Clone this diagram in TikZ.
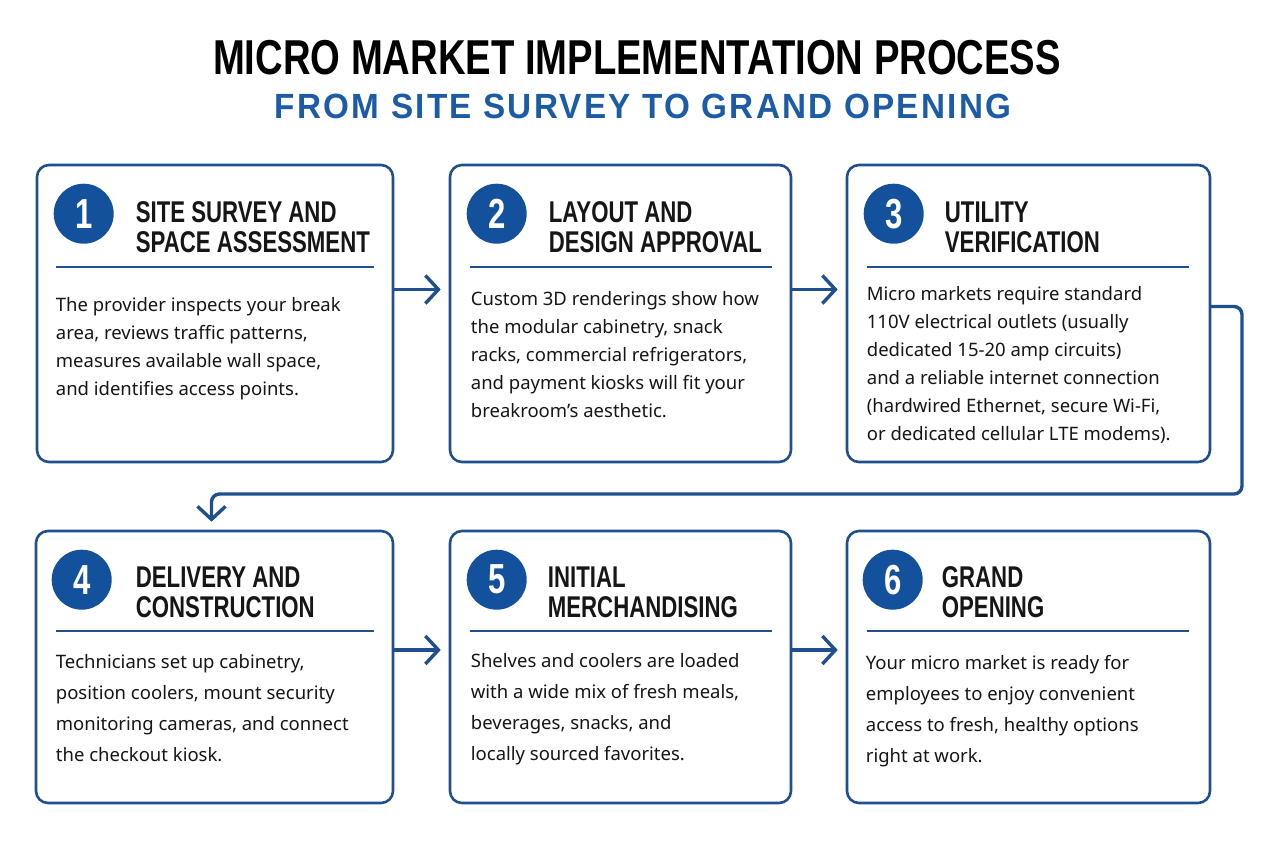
\documentclass[tikz,border=0pt]{standalone}
\usepackage{fontspec}
\setmainfont{Noto Sans}
\newfontfamily\headfont[FakeStretch=0.74]{Liberation Sans}
\newfontfamily\titlefont[FakeStretch=0.78]{Liberation Sans}
\newfontfamily\subfont[FakeStretch=0.95,LetterSpace=6.5]{Liberation Sans}
\usetikzlibrary{arrows.meta,positioning}
\definecolor{mmblue}{HTML}{1F4F8F}
\definecolor{badgeblue}{HTML}{14519C}
\definecolor{subblue}{HTML}{1C5CA6}
\definecolor{ink}{HTML}{161616}

\begin{document}
\begin{tikzpicture}[
    x=1pt,y=-1pt,
    card/.style={draw=mmblue, line width=2.6pt, rounded corners=12pt, fill=white,
      inner sep=0pt},
    toprow/.style={card, minimum height=297pt},
    lowrow/.style={card, minimum height=272pt},
    badge/.style={circle, fill=badgeblue, text=white, minimum size=60pt, inner sep=0pt,
      font=\headfont\bfseries\fontsize{42}{42}\selectfont},
    head/.style={anchor=north west, inner sep=0pt, align=left, text=ink,
      font=\headfont\bfseries\fontsize{30}{30}\selectfont},
    body/.style={anchor=north west, inner sep=0pt, align=left, text=ink,
      font=\fontsize{18.5}{28}\selectfont},
    lowbody/.style={body, font=\fontsize{18.5}{31}\selectfont},
    rule/.style={draw=mmblue, line width=1.8pt},
    link/.style={draw=mmblue, line width=3.4pt, line cap=round,
      -{Straight Barb[length=13pt,width=28pt,line width=3.4pt]}}
  ]
    \useasboundingbox (0,0) rectangle (1280,843);

    \node[font=\titlefont\bfseries\fontsize{49}{49}\selectfont, text=black] (title) at (637,58)
      {MICRO MARKET IMPLEMENTATION PROCESS};
    \node[font=\subfont\bfseries\fontsize{35}{35}\selectfont, text=subblue] (subtitle) at (643,106)
      {FROM SITE SURVEY TO GRAND OPENING};

    % step cards
    \node[toprow, minimum width=356pt] (s1) at (215,313.5) {};
    \node[toprow, minimum width=341pt] (s2) at (620.5,313.5) {};
    \node[toprow, minimum width=363pt] (s3) at (1028.5,313.5) {};
    \node[lowrow, minimum width=357pt] (s4) at (214.5,667) {};
    \node[lowrow, minimum width=341pt] (s5) at (620.5,667) {};
    \node[lowrow, minimum width=363pt] (s6) at (1028.5,667) {};

    \node[badge] (b1) at ([xshift=48pt,yshift=-50pt]s1.north west) {1};
    \node[badge] (b2) at ([xshift=48pt,yshift=-50pt]s2.north west) {2};
    \node[badge] (b3) at ([xshift=48pt,yshift=-50pt]s3.north west) {3};
    \node[badge] (b4) at ([xshift=47pt,yshift=-50pt]s4.north west) {4};
    \node[badge] (b5) at ([xshift=48pt,yshift=-50pt]s5.north west) {5};
    \node[badge] (b6) at ([xshift=47pt,yshift=-50pt]s6.north west) {6};

    \node[head] (h1) at ([xshift=100pt,yshift=-38pt]s1.north west) {SITE SURVEY AND\\SPACE ASSESSMENT};
    \node[head] (h2) at ([xshift=100pt,yshift=-38pt]s2.north west) {LAYOUT AND\\DESIGN APPROVAL};
    \node[head] (h3) at ([xshift=99pt,yshift=-38pt]s3.north west) {UTILITY\\VERIFICATION};
    \node[head] (h4) at ([xshift=101pt,yshift=-37pt]s4.north west) {DELIVERY AND\\CONSTRUCTION};
    \node[head] (h5) at ([xshift=99pt,yshift=-37pt]s5.north west) {INITIAL\\MERCHANDISING};
    \node[head] (h6) at ([xshift=96pt,yshift=-37pt]s6.north west) {GRAND\\OPENING};

    \draw[rule] ([xshift=20pt,yshift=-103pt]s1.north west) -- ([xshift=-20pt,yshift=-103pt]s1.north east);
    \draw[rule] ([xshift=21pt,yshift=-103pt]s2.north west) -- ([xshift=-20pt,yshift=-103pt]s2.north east);
    \draw[rule] ([xshift=21pt,yshift=-103pt]s3.north west) -- ([xshift=-22pt,yshift=-103pt]s3.north east);
    \draw[rule] ([xshift=21pt,yshift=-101pt]s4.north west) -- ([xshift=-20pt,yshift=-101pt]s4.north east);
    \draw[rule] ([xshift=21pt,yshift=-101pt]s5.north west) -- ([xshift=-20pt,yshift=-101pt]s5.north east);
    \draw[rule] ([xshift=21pt,yshift=-101pt]s6.north west) -- ([xshift=-22pt,yshift=-101pt]s6.north east);

    \node[body] (t1) at ([xshift=20pt,yshift=-134pt]s1.north west)
      {The provider inspects your break\\area, reviews traffic patterns,\\measures available wall space,\\and identifies access points.};
    \node[body] (t2) at ([xshift=22pt,yshift=-128pt]s2.north west)
      {Custom 3D renderings show how\\the modular cabinetry, snack\\racks, commercial refrigerators,\\and payment kiosks will fit your\\breakroom’s aesthetic.};
    \node[body] (t3) at ([xshift=21pt,yshift=-123pt]s3.north west)
      {Micro markets require standard\\110V electrical outlets (usually\\dedicated 15-20 amp circuits)\\and a reliable internet connection\\(hardwired Ethernet, secure Wi-Fi,\\or dedicated cellular LTE modems).};
    \node[lowbody] (t4) at ([xshift=21pt,yshift=-125pt]s4.north west)
      {Technicians set up cabinetry,\\position coolers, mount security\\monitoring cameras, and connect\\the checkout kiosk.};
    \node[lowbody] (t5) at ([xshift=22pt,yshift=-124pt]s5.north west)
      {Shelves and coolers are loaded\\with a wide mix of fresh meals,\\beverages, snacks, and\\locally sourced favorites.};
    \node[lowbody] (t6) at ([xshift=20pt,yshift=-125pt]s6.north west)
      {Your micro market is ready for\\employees to enjoy convenient\\access to fresh, healthy options\\right at work.};

    % flow
    \coordinate (bend) at (1242,494);
    \draw[link, shorten >=8pt] ([yshift=24pt]s1.east) -- ([yshift=24pt]s2.west);
    \draw[link, shorten >=8pt] ([yshift=24pt]s2.east) -- ([yshift=24pt]s3.west);
    \draw[link, rounded corners=8pt, shorten >=8pt] ([yshift=7pt]s3.east) -| (bend) -| ([xshift=-3pt]s4.north);
    \draw[link, shorten >=8pt] ([yshift=17pt]s4.east) -- ([yshift=17pt]s5.west);
    \draw[link, shorten >=8pt] ([yshift=17pt]s5.east) -- ([yshift=17pt]s6.west);
  \end{tikzpicture}
\end{document}
